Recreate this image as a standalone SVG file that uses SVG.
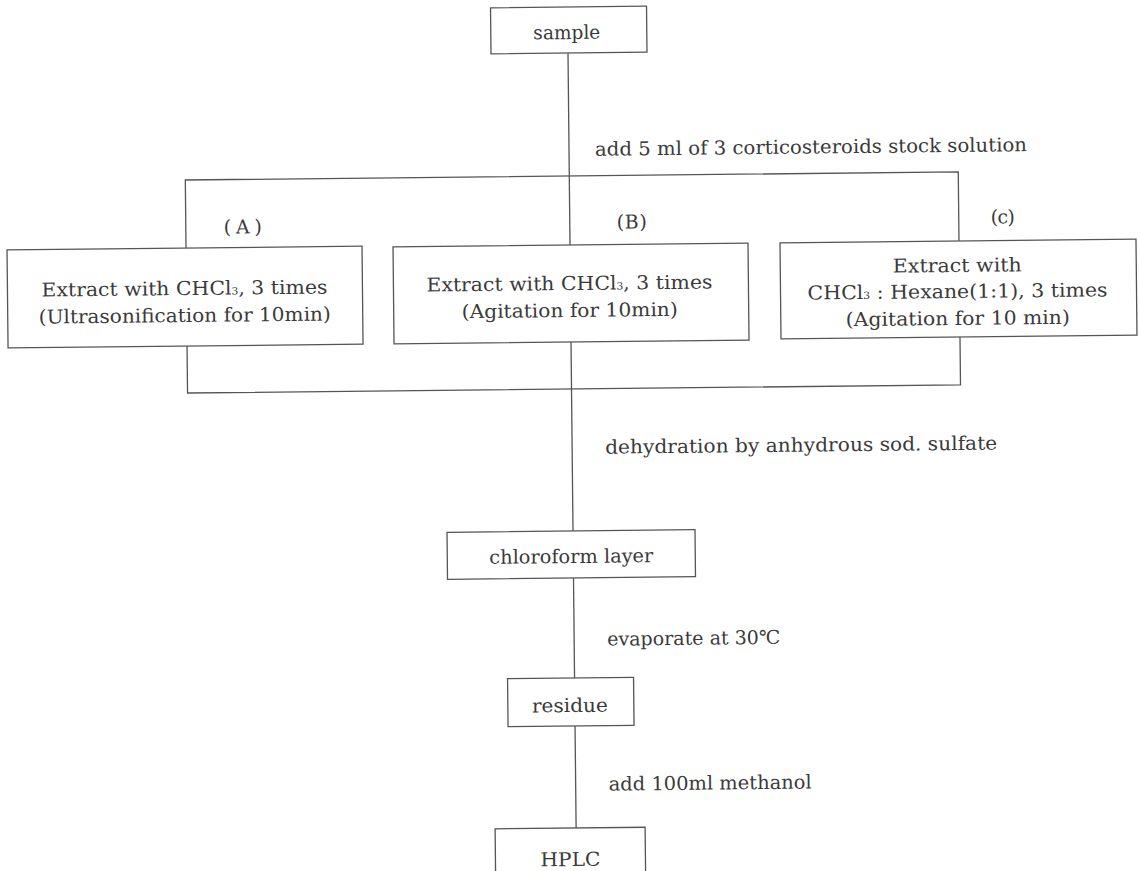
<svg xmlns="http://www.w3.org/2000/svg" width="1139" height="871" viewBox="0 0 1139 871">
<style>
.box{fill:#fff;stroke:#555;stroke-width:1.3}
.ln{fill:none;stroke:#555;stroke-width:1.3}
text{font-family:"DejaVu Serif","Liberation Serif",serif;font-size:19px;fill:#3a3a3a}
.c{text-anchor:middle}
.sub{font-size:10px}
</style>
<rect width="1139" height="871" fill="#fff"/>
<g transform="rotate(-0.6 570 435)">
<g id="connectors">
<line class="ln" x1="572" y1="53" x2="572" y2="245"/>
<polyline class="ln" points="188,244 188,176 961,176 961,245"/>
<polyline class="ln" points="188,342 188,389 961,389 961,341"/>
<line class="ln" x1="572" y1="342" x2="572" y2="531"/>
<line class="ln" x1="572" y1="578" x2="572" y2="678"/>
<line class="ln" x1="572" y1="726" x2="572" y2="828"/>
<text x="598" y="156" textLength="432" lengthAdjust="spacingAndGlyphs">add 5 ml of 3 corticosteroids stock solution</text>
<text x="605" y="454" textLength="392" lengthAdjust="spacingAndGlyphs">dehydration by anhydrous sod. sulfate</text>
<text x="605" y="646" textLength="173" lengthAdjust="spacingAndGlyphs">evaporate at 30℃</text>
<text x="605" y="791" textLength="203" lengthAdjust="spacingAndGlyphs">add 100ml methanol</text>
<text class="c" x="245" y="230" textLength="38" lengthAdjust="spacing">(A)</text>
<text class="c" x="634" y="229" textLength="30" lengthAdjust="spacing">(B)</text>
<text class="c" x="1005" y="228" textLength="24" lengthAdjust="spacing">(c)</text>
</g>
<g id="sample">
<rect class="box" x="495" y="7" width="156" height="46"/>
<text class="c" x="571" y="39" textLength="67" lengthAdjust="spacingAndGlyphs">sample</text>
</g>
<g id="extractA">
<rect class="box" x="9" y="244" width="355" height="98"/>
<text class="c" x="186" y="291" textLength="286" lengthAdjust="spacingAndGlyphs">Extract with CHCl<tspan class="sub">3</tspan>, 3 times</text>
<text class="c" x="186" y="318" textLength="292" lengthAdjust="spacingAndGlyphs">(Ultrasonification for 10min)</text>
</g>
<g id="extractB">
<rect class="box" x="395" y="245" width="355" height="97"/>
<text class="c" x="571" y="290" textLength="286" lengthAdjust="spacingAndGlyphs">Extract with CHCl<tspan class="sub">3</tspan>, 3 times</text>
<text class="c" x="571" y="317" textLength="216" lengthAdjust="spacingAndGlyphs">(Agitation for 10min)</text>
</g>
<g id="extractC">
<rect class="box" x="782" y="245" width="356" height="96"/>
<text class="c" x="959" y="276" textLength="129" lengthAdjust="spacingAndGlyphs">Extract with</text>
<text class="c" x="959" y="302" textLength="300" lengthAdjust="spacingAndGlyphs">CHCl<tspan class="sub">3</tspan> : Hexane(1:1), 3 times</text>
<text class="c" x="959" y="329" textLength="224" lengthAdjust="spacingAndGlyphs">(Agitation for 10 min)</text>
</g>
<g id="chloroform">
<rect class="box" x="446" y="531" width="248" height="47"/>
<text class="c" x="570" y="563" textLength="164" lengthAdjust="spacingAndGlyphs">chloroform layer</text>
</g>
<g id="residue">
<rect class="box" x="505" y="678" width="126" height="48"/>
<text class="c" x="567" y="712" textLength="76" lengthAdjust="spacingAndGlyphs">residue</text>
</g>
<g id="hplc">
<rect class="box" x="491" y="828" width="150" height="60"/>
<text class="c" x="566" y="866" textLength="60" lengthAdjust="spacingAndGlyphs">HPLC</text>
</g>
</g>
</svg>
